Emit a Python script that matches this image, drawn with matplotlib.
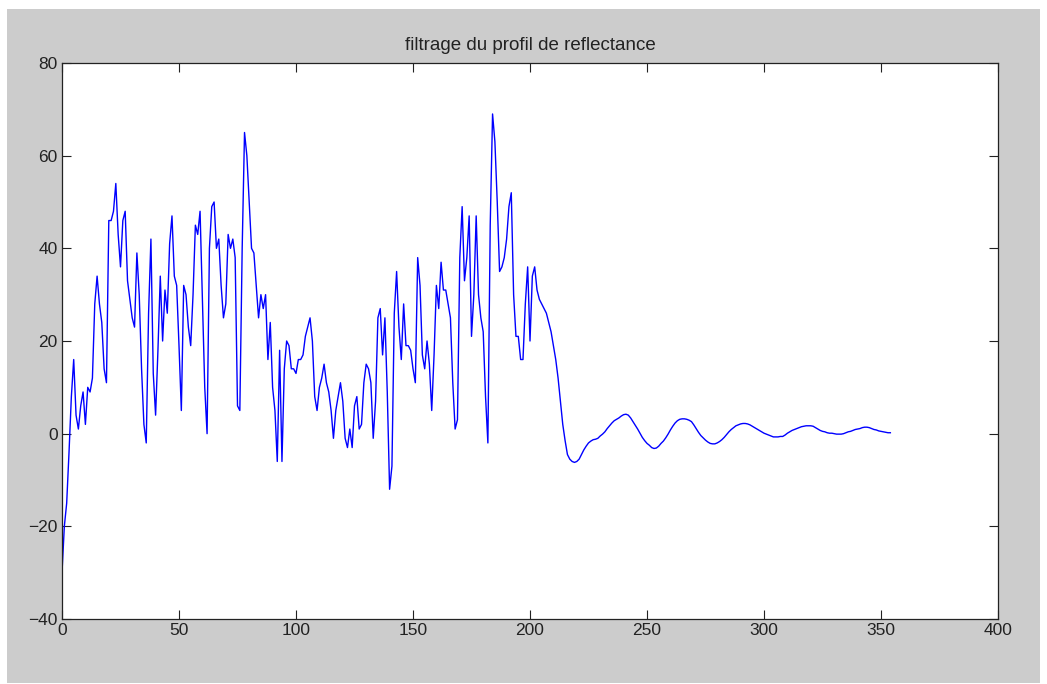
import numpy as np
import matplotlib
matplotlib.use("Agg")
import matplotlib.pyplot as plt
from matplotlib.patches import Rectangle

# Filtered reflectance profile (one value per sample)
profil_a = [-30, -20, -15, -4, 8, 16, 4, 1, 6, 9, 2, 10, 9, 12, 28, 34, 28, 24, 14, 11,
            46, 46, 48, 54, 43, 36, 46, 48, 33, 29, 25, 23, 39, 30, 14, 2, -2, 26, 42, 13,
            4, 18, 34, 20, 31, 26, 41, 47, 34]
profil_b = [32, 19, 5, 32, 30, 23, 19, 30, 45, 43, 48, 29, 10, 0, 40, 49, 50, 40, 42, 32,
            25, 28, 43, 40, 42, 38, 6, 5, 40, 65, 60, 50, 40, 39, 32, 25, 30, 27, 30, 16,
            24, 10, 5, -6, 18, -6, 14]
profil_c = [20, 19, 14, 14, 13, 16, 16, 17, 21, 23, 25, 20, 8, 5, 10, 12, 15, 11, 9, 5,
            -1, 5, 8, 11, 7, -1, -3, 1, -3, 6, 8, 1, 2, 11, 15, 14, 11, -1, 7, 25,
            27, 17, 25, 9, -12, -7, 26, 35, 23, 16]
profil_d = [28, 19, 19, 18, 14, 11, 38, 32, 17, 14, 20, 15, 5, 17, 32, 27, 37, 31, 31, 28,
            25, 11, 1, 3, 38, 49, 33, 38, 47, 21, 30, 47, 30, 25, 22, 8, -2, 45, 69, 63,
            50, 35, 36, 38, 42, 49, 52, 30, 21, 21, 16, 16, 28, 36, 20, 34, 36, 31]
profil_e = [29, 28, 27, 26, 24, 22, 19, 16, 12, 7, 2, -1.5, -4.5, -5.5, -6, -6.2, -6, -5.5,
            -4.5, -3.5, -2.7, -2, -1.6, -1.3, -1.2, -1, -0.5, -0.1, 0.4, 1.1, 1.7, 2.3,
            2.8, 3.1, 3.4, 3.8, 4.1, 4.2, 4.0, 3.4, 2.6, 1.8, 1.0, 0.1, -0.8, -1.5, -2.1,
            -2.5, -3.0, -3.2, -3.1, -2.7, -2.1, -1.6, -0.9, -0.1, 0.8, 1.6, 2.3, 2.8, 3.1,
            3.2, 3.2, 3.1, 2.9, 2.6, 1.9, 1.1, 0.3, -0.4, -0.9, -1.4, -1.8, -2.1, -2.2,
            -2.2, -2.0, -1.7, -1.3, -0.8, -0.2, 0.4, 0.9, 1.3, 1.7, 1.9, 2.1, 2.2, 2.2,
            2.1, 1.9, 1.6, 1.3, 1.0, 0.7, 0.4, 0.1, -0.1, -0.3, -0.5, -0.7, -0.7, -0.7,
            -0.6, -0.6, -0.3, 0.1, 0.4, 0.7, 0.9, 1.1, 1.3, 1.5, 1.6, 1.7, 1.7, 1.7, 1.6,
            1.3, 1.0, 0.7, 0.5, 0.4, 0.2, 0.1, 0.1, 0.0, -0.1, -0.1, -0.1, 0.0, 0.2, 0.4,
            0.5, 0.7, 0.9, 1.0, 1.1, 1.3, 1.4, 1.4, 1.3, 1.1, 0.9, 0.8, 0.6, 0.5, 0.4,
            0.3, 0.2, 0.2]

profil = np.array(profil_a + profil_b + profil_c + profil_d + profil_e, dtype=float)
echantillons = np.arange(len(profil))

x_ticks = [0, 50, 100, 150, 200, 250, 300, 350, 400]
y_ticks = [-40, -20, 0, 20, 40, 60, 80]
titre = "filtrage du profil de reflectance"

W, H = 1047, 684
fig = plt.figure(figsize=(W / 100, H / 100), dpi=100, facecolor="white")
# grey window background
fig.patches.append(Rectangle((7 / W, 1 / H), (1040 - 7) / W, (675 - 1) / H,
                             transform=fig.transFigure, facecolor="#cccccc",
                             edgecolor="none", zorder=-10))

ax = fig.add_axes([62 / W, (H - 619) / H, 936 / W, 556 / H])
ax.set_facecolor("white")
ax.plot(echantillons, profil, color="#0000ff", linewidth=1.0)

ax.set_xlim(0, 400)
ax.set_ylim(-40, 80)
ax.set_xticks(x_ticks)
ax.set_yticks(y_ticks)
ax.tick_params(direction="in", length=6.5, width=0.8, top=True, right=True,
               labelsize=12.5, colors="#222222", pad=3)
for lab in ax.get_xticklabels() + ax.get_yticklabels():
    lab.set_fontfamily("Liberation Sans")
for sp in ax.spines.values():
    sp.set_color("#222222")
    sp.set_linewidth(0.9)

ax.set_title(titre, fontsize=13.5, fontfamily="Liberation Sans", color="#222222", pad=9)

fig.savefig("out.png", dpi=100, facecolor=fig.get_facecolor())
